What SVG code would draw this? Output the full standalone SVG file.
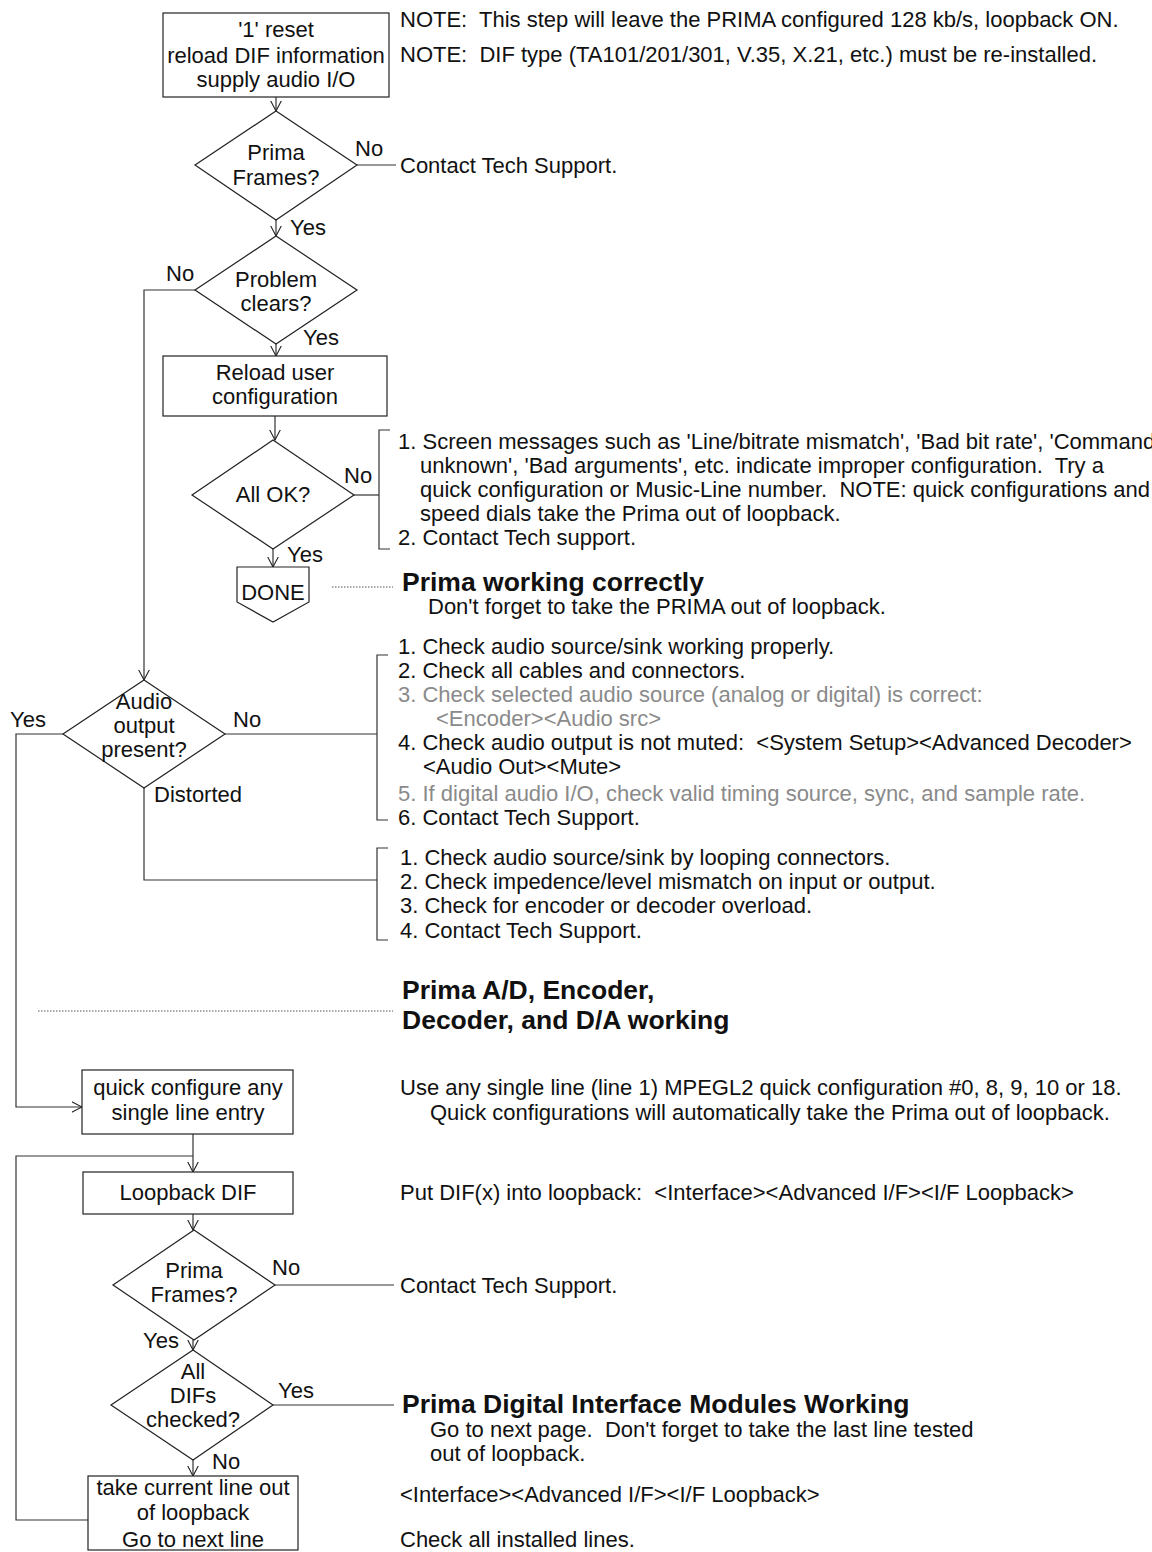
<svg xmlns="http://www.w3.org/2000/svg" width="1152" height="1552" viewBox="0 0 1152 1552">
<style>
text{font-family:"Liberation Sans",Arial,sans-serif;font-size:22px;fill:#111;white-space:pre}
.c{text-anchor:middle}
.g{fill:#8a8a8a}
.h{font-weight:bold;font-size:26.5px}
.shape{fill:#fff;stroke:#222;stroke-width:1.2}
.ln{fill:none;stroke:#333;stroke-width:1.2}
.dot{fill:none;stroke:#555;stroke-width:1;stroke-dasharray:1.5 1.5}
</style>
<defs>
<marker id="ah" viewBox="0 0 11 12" refX="10.5" refY="6" markerWidth="11" markerHeight="12" markerUnits="userSpaceOnUse" orient="auto">
<path d="M0,0.5 L10.5,6 L0,11.5" fill="none" stroke="#222" stroke-width="1.1"/>
</marker>
</defs>
<rect width="1152" height="1552" fill="#fff"/>

<g id="connectors">
<line class="ln" x1="276" y1="97" x2="276" y2="111" marker-end="url(#ah)"/>
<line class="ln" x1="357" y1="165" x2="396" y2="165"/>
<line class="ln" x1="276" y1="220" x2="276" y2="236" marker-end="url(#ah)"/>
<polyline class="ln" points="195,290 144,290 144,680" marker-end="url(#ah)"/>
<line class="ln" x1="276" y1="344" x2="276" y2="356" marker-end="url(#ah)"/>
<line class="ln" x1="275" y1="416" x2="275" y2="440" marker-end="url(#ah)"/>
<line class="ln" x1="354" y1="495" x2="379" y2="495"/>
<polyline class="ln" points="390,430 379,430 379,549 390,549"/>
<line class="ln" x1="273" y1="549" x2="273" y2="567" marker-end="url(#ah)"/>
<line class="dot" x1="332" y1="587" x2="393" y2="587"/>
<polyline class="ln" points="63,734 16,734 16,1107 82,1107" marker-end="url(#ah)"/>
<line class="ln" x1="225" y1="734" x2="377" y2="734"/>
<polyline class="ln" points="388,655 377,655 377,820 388,820"/>
<polyline class="ln" points="144,788 144,880 377,880"/>
<polyline class="ln" points="388,848 377,848 377,940 388,940"/>
<line class="dot" x1="38" y1="1011" x2="393" y2="1011"/>
<line class="ln" x1="193" y1="1134" x2="193" y2="1172" marker-end="url(#ah)"/>
<polyline class="ln" points="88,1520 16,1520 16,1156 193,1156"/>
<line class="ln" x1="193" y1="1214" x2="193" y2="1230" marker-end="url(#ah)"/>
<line class="ln" x1="275" y1="1285" x2="394" y2="1285"/>
<line class="ln" x1="193" y1="1340" x2="193" y2="1350" marker-end="url(#ah)"/>
<line class="ln" x1="273" y1="1405" x2="394" y2="1405"/>
<line class="ln" x1="193" y1="1460" x2="193" y2="1476" marker-end="url(#ah)"/>
</g>

<g id="reset">
<rect class="shape" x="163" y="13" width="226" height="84"/>
<text class="c" x="276" y="37">'1' reset</text>
<text class="c" x="276" y="63">reload DIF information</text>
<text class="c" x="276" y="87">supply audio I/O</text>
</g>

<g id="notes-top">
<text x="400" y="27">NOTE:  This step will leave the PRIMA configured 128 kb/s, loopback ON.</text>
<text x="400" y="62">NOTE:  DIF type (TA101/201/301, V.35, X.21, etc.) must be re-installed.</text>
</g>

<g id="frames1">
<polygon class="shape" points="276,111 357,165 276,220 195,165"/>
<text class="c" x="276" y="160">Prima</text>
<text class="c" x="276" y="185">Frames?</text>
<text x="355" y="156">No</text>
<text x="290" y="235">Yes</text>
<text x="400" y="173">Contact Tech Support.</text>
</g>

<g id="clears">
<polygon class="shape" points="276,236 357,290 276,344 195,290"/>
<text class="c" x="276" y="287">Problem</text>
<text class="c" x="276" y="311">clears?</text>
<text x="166" y="281">No</text>
<text x="303" y="345">Yes</text>
</g>

<g id="reload">
<rect class="shape" x="163" y="356" width="224" height="60"/>
<text class="c" x="275" y="380">Reload user</text>
<text class="c" x="275" y="404">configuration</text>
</g>

<g id="allok">
<polygon class="shape" points="273,440 354,495 273,549 192,495"/>
<text class="c" x="273" y="502">All OK?</text>
<text x="344" y="483">No</text>
<text x="287" y="562">Yes</text>
<text x="398" y="449">1. Screen messages such as 'Line/bitrate mismatch', 'Bad bit rate', 'Command</text>
<text x="420" y="473">unknown', 'Bad arguments', etc. indicate improper configuration.  Try a</text>
<text x="420" y="497">quick configuration or Music-Line number.  NOTE: quick configurations and</text>
<text x="420" y="521">speed dials take the Prima out of loopback.</text>
<text x="398" y="545">2. Contact Tech support.</text>
</g>

<g id="done">
<polygon class="shape" points="237,567 309,567 309,602 273,622 237,602"/>
<text class="c" x="273" y="600">DONE</text>
<text class="h" x="402" y="591">Prima working correctly</text>
<text x="428" y="614">Don't forget to take the PRIMA out of loopback.</text>
</g>

<g id="audio">
<polygon class="shape" points="144,680 225,734 144,788 63,734"/>
<text class="c" x="144" y="709">Audio</text>
<text class="c" x="144" y="733">output</text>
<text class="c" x="144" y="757">present?</text>
<text x="10" y="727">Yes</text>
<text x="233" y="727">No</text>
<text x="154" y="802">Distorted</text>
</g>

<g id="no-audio-list">
<text x="398" y="654">1. Check audio source/sink working properly.</text>
<text x="398" y="678">2. Check all cables and connectors.</text>
<text class="g" x="398" y="702">3. Check selected audio source (analog or digital) is correct:</text>
<text class="g" x="436" y="726">&lt;Encoder&gt;&lt;Audio src&gt;</text>
<text x="398" y="750">4. Check audio output is not muted:  &lt;System Setup&gt;&lt;Advanced Decoder&gt;</text>
<text x="423" y="774">&lt;Audio Out&gt;&lt;Mute&gt;</text>
<text class="g" x="398" y="801">5. If digital audio I/O, check valid timing source, sync, and sample rate.</text>
<text x="398" y="825">6. Contact Tech Support.</text>
</g>

<g id="distorted-list">
<text x="400" y="865">1. Check audio source/sink by looping connectors.</text>
<text x="400" y="889">2. Check impedence/level mismatch on input or output.</text>
<text x="400" y="913">3. Check for encoder or decoder overload.</text>
<text x="400" y="938">4. Contact Tech Support.</text>
</g>

<g id="ad-working">
<text class="h" x="402" y="999">Prima A/D, Encoder,</text>
<text class="h" x="402" y="1029">Decoder, and D/A working</text>
</g>

<g id="quick">
<rect class="shape" x="82" y="1070" width="211" height="64"/>
<text class="c" x="188" y="1095">quick configure any</text>
<text class="c" x="188" y="1120">single line entry</text>
<text x="400" y="1095">Use any single line (line 1) MPEGL2 quick configuration #0, 8, 9, 10 or 18.</text>
<text x="430" y="1120">Quick configurations will automatically take the Prima out of loopback.</text>
</g>

<g id="loopback">
<rect class="shape" x="83" y="1172" width="210" height="42"/>
<text class="c" x="188" y="1200">Loopback DIF</text>
<text x="400" y="1200">Put DIF(x) into loopback:  &lt;Interface&gt;&lt;Advanced I/F&gt;&lt;I/F Loopback&gt;</text>
</g>

<g id="frames2">
<polygon class="shape" points="194,1230 275,1285 194,1340 113,1285"/>
<text class="c" x="194" y="1278">Prima</text>
<text class="c" x="194" y="1302">Frames?</text>
<text x="272" y="1275">No</text>
<text x="143" y="1348">Yes</text>
<text x="400" y="1293">Contact Tech Support.</text>
</g>

<g id="alldifs">
<polygon class="shape" points="193,1350 273,1405 193,1460 111,1405"/>
<text class="c" x="193" y="1379">All</text>
<text class="c" x="193" y="1403">DIFs</text>
<text class="c" x="193" y="1427">checked?</text>
<text x="278" y="1398">Yes</text>
<text x="212" y="1469">No</text>
<text class="h" x="402" y="1413">Prima Digital Interface Modules Working</text>
<text x="430" y="1437">Go to next page.  Don't forget to take the last line tested</text>
<text x="430" y="1461">out of loopback.</text>
</g>

<g id="nextline">
<rect class="shape" x="88" y="1476" width="210" height="74"/>
<text class="c" x="193" y="1495">take current line out</text>
<text class="c" x="193" y="1520">of loopback</text>
<text class="c" x="193" y="1547">Go to next line</text>
<text x="400" y="1502">&lt;Interface&gt;&lt;Advanced I/F&gt;&lt;I/F Loopback&gt;</text>
<text x="400" y="1547">Check all installed lines.</text>
</g>
</svg>
